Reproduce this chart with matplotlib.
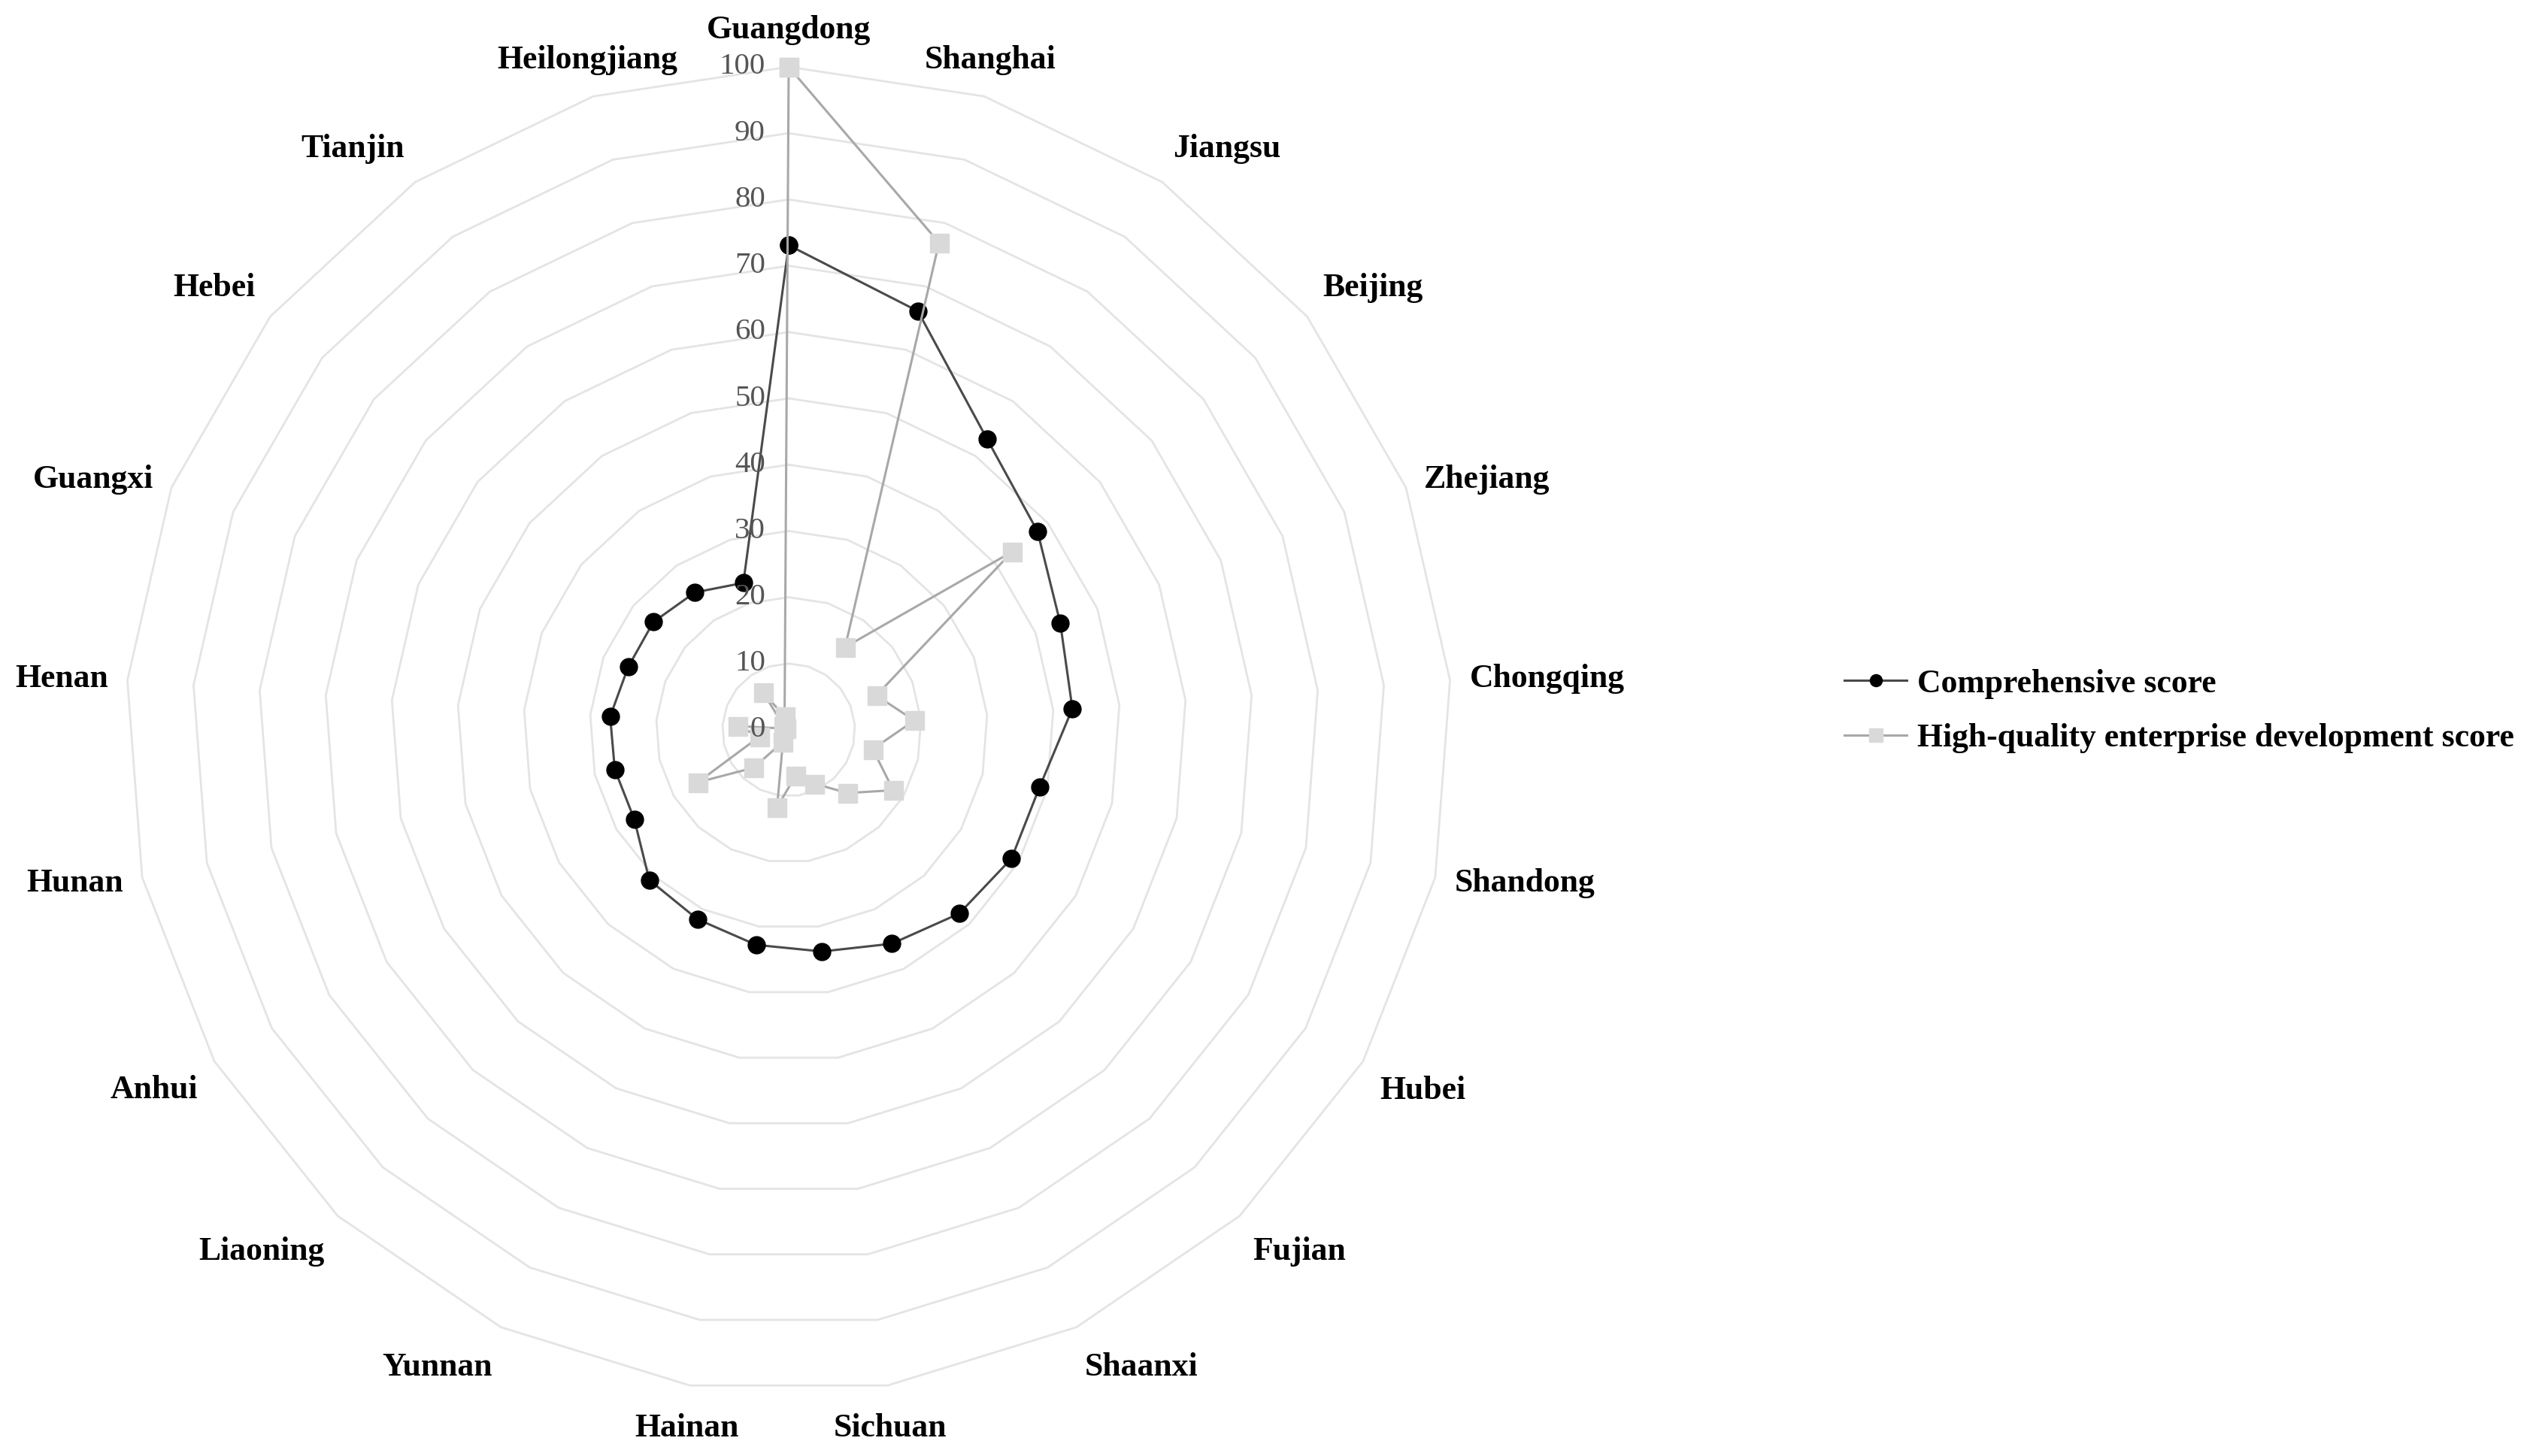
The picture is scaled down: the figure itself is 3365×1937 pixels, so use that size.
import numpy as np
import matplotlib
matplotlib.use('Agg')
import matplotlib.pyplot as plt

provinces = ['Guangdong', 'Shanghai', 'Jiangsu', 'Beijing', 'Zhejiang', 'Chongqing',
             'Shandong', 'Hubei', 'Fujian', 'Shaanxi', 'Sichuan', 'Hainan', 'Yunnan',
             'Liaoning', 'Anhui', 'Hunan', 'Henan', 'Guangxi', 'Hebei', 'Tianjin',
             'Heilongjiang']
comprehensive = [73.1, 66.1, 53.1, 48.0, 44.0, 42.9, 38.8, 38.8, 37.8, 35.8, 33.8,
                 32.8, 31.7, 30.9, 26.9, 26.9, 27.0, 26.0, 26.1, 25.1, 23.2]
enterprise = [100.0, 76.9, 15.1, 43.1, 14.2, 19.0, 13.0, 18.2, 13.0, 9.0, 7.0,
              11.8, 2.0, 7.8, 15.8, 4.5, 7.7, 0.5, 1.0, 6.9, 2.1]
rings = [10, 20, 30, 40, 50, 60, 70, 80, 90, 100]
tick_values = [0, 10, 20, 30, 40, 50, 60, 70, 80, 90, 100]
series_names = ['Comprehensive score', 'High-quality enterprise development score']

W, H = 3366, 1937
cx, cy, R = 1049, 971, 882

fig = plt.figure(figsize=(W / 100, H / 100), dpi=100)
ax = fig.add_axes([(cx - R) / W, (H - cy - R) / H, 2 * R / W, 2 * R / H], projection='polar')
ax.set_theta_zero_location('N')
ax.set_theta_direction(-1)
ax.set_ylim(0, 100)
ax.set_xticks([])
ax.set_yticks([])
ax.grid(False)
ax.spines['polar'].set_visible(False)

n = len(provinces)
theta = np.linspace(0, 2 * np.pi, n, endpoint=False)
tc = np.append(theta, theta[0])

# polygon gridlines
for v in rings:
    ax.plot(tc, [v] * (n + 1), color='#e4e4e4', lw=2.0, zorder=1, clip_on=False)

c1 = np.append(comprehensive, comprehensive[0])
c2 = np.append(enterprise, enterprise[0])
ax.plot(tc, c1, '-o', color='#4a4a4a', lw=2.2, ms=16.5, mfc='black', mec='black',
        zorder=3, clip_on=False, label=series_names[0])
ax.plot(tc, c2, '-s', color='#a8a8a8', lw=2.2, ms=18, mfc='#d9d9d9', mec='#d9d9d9',
        zorder=4, clip_on=False, label=series_names[1])

# radial tick labels
for v in tick_values:
    ax.annotate(str(v), xy=(0, v), xytext=(-31, 0), textcoords='offset pixels',
                ha='right', va='center', fontsize=29.5, color='#555555',
                family='Liberation Serif', zorder=5)

# category labels
for t, lab in zip(theta, provinces):
    s, c = np.sin(t), np.cos(t)
    ha = 'center' if abs(s) < 0.3 else ('left' if s > 0 else 'right')
    va = 'center' if abs(c) < 0.4 else ('bottom' if c > 0 else 'top')
    dy = 29 * c if c > 0 else 37 * c
    ax.annotate(lab, xy=(t, 100), xytext=(26 * s, dy), textcoords='offset pixels',
                ha=ha, va=va, fontsize=31.5, fontweight='bold', color='black',
                family='Liberation Serif')

handles, labels = ax.get_legend_handles_labels()
fig.legend(handles, labels, loc='center left', bbox_to_anchor=(2414 / W, 1 - 946 / H),
           frameon=False, prop={'family': 'Liberation Serif', 'weight': 'bold', 'size': 31.5},
           handlelength=1.9, handletextpad=0.3, labelspacing=0.75, markerscale=0.7)

fig.savefig('out.png', dpi=100, facecolor='white')
